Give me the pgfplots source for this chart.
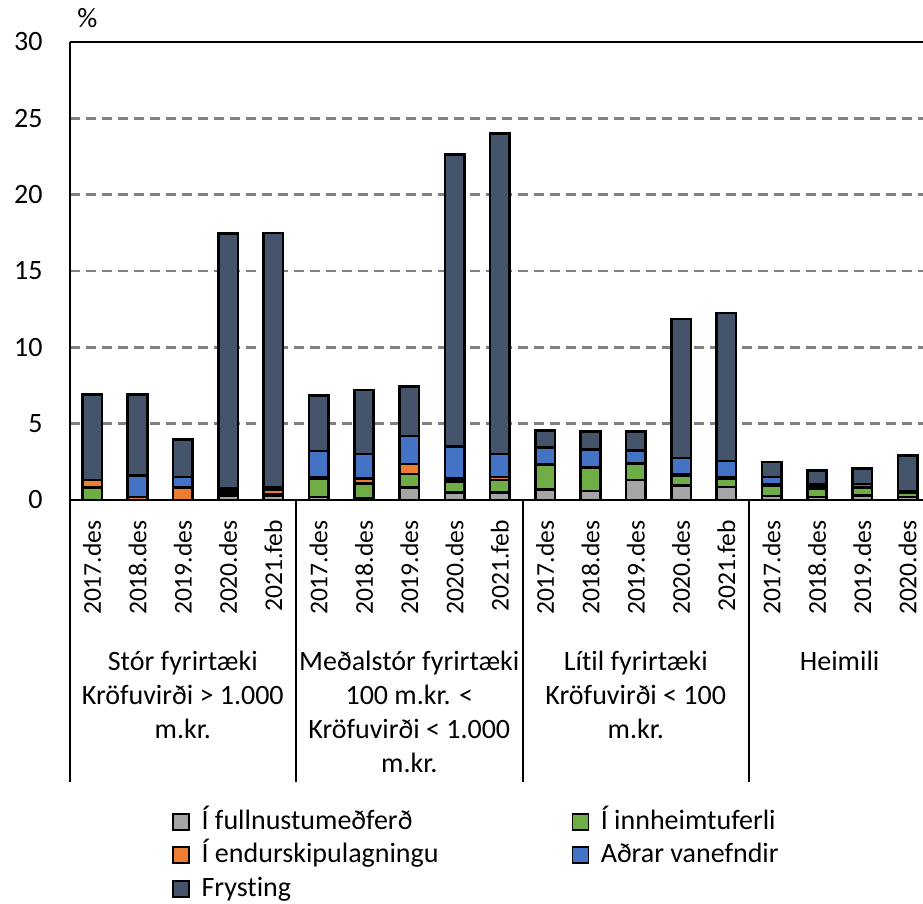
\documentclass[border=0pt]{standalone}
\usepackage{fontspec}
\setmainfont{Carlito}[Ligatures=NoCommon]
\usepackage{pgfplots}
\usepackage{pgfplotstable}
\pgfplotsset{compat=1.18}
\definecolor{cgray}{HTML}{A5A5A5}
\definecolor{cgreen}{HTML}{70AD47}
\definecolor{corange}{HTML}{ED7D31}
\definecolor{cblue}{HTML}{4472C4}
\definecolor{cdark}{HTML}{44546A}
\pgfplotstableread{
x gray green orange blue frys
0  0    0.8  0.5  0    5.6
1  0    0    0.2  1.4  5.3
2  0    0    0.8  0.7  2.45
3  0.3  0.05 0.2  0.2  16.7
4  0.3  0.1  0.3  0.1  16.7
5  0.2  1.2  0.1  1.7  3.65
6  0.1  1.0  0.3  1.6  4.2
7  0.8  0.9  0.65 1.85 3.25
8  0.5  0.7  0.2  2.1  19.15
9  0.5  0.8  0.2  1.5  21.0
10 0.7  1.6  0.05 1.1  1.1
11 0.6  1.5  0.05 1.15 1.2
12 1.3  1.05 0.05 0.85 1.25
13 0.95 0.65 0.1  1.05 9.1
14 0.85 0.55 0.1  1.05 9.7
15 0.25 0.7  0.05 0.5  1.0
16 0.2  0.55 0.05 0.2  0.95
17 0.3  0.5  0.05 0.2  1.0
18 0.2  0.25 0.1  0.05 2.3
}\datatab
\begin{document}
\begin{tikzpicture}
\begin{axis}[
  scale only axis, width=426.5pt, height=229pt,
  at={(0,0)}, anchor=south west,
  xmin=-0.49, xmax=18.34, ymin=0, ymax=30,
  ybar stacked, bar width=0.43,
  separate axis lines, axis x line*=box, axis y line*=left,
  axis line style={line width=1.1pt, black},
  ytick={0,5,...,30},
  xtick={0,...,18},
  xticklabels={2017.des,2018.des,2019.des,2020.des,2021.feb,2017.des,2018.des,2019.des,2020.des,2021.feb,2017.des,2018.des,2019.des,2020.des,2021.feb,2017.des,2018.des,2019.des,2020.des},
  major tick length=0pt,
  ymajorgrids, grid style={dash pattern=on 5pt off 3pt, line width=1.2pt, color=black!50},
  /pgf/number format/assume math mode=true,
  yticklabel style={font=\fontsize{14}{17}\selectfont, anchor=east, inner sep=0pt},
  yticklabel shift=13.5pt,
  xticklabel style={font=\fontsize{12.8}{15}\selectfont, rotate=90, anchor=east, inner sep=0pt},
  xticklabel shift=10pt,
  clip=false,
  legend columns=2,
  legend cell align=left,
  legend image code/.code={\draw[#1, draw=black, line width=0.9pt] (0pt,-4pt) rectangle (8pt,4pt); \path (11.5pt,0pt);},
  legend style={at={(0.1196,-0.6725)}, anchor=north west, draw=none, fill=none,
    font=\fontsize{14}{17}\selectfont, inner sep=0pt,
    nodes={inner ysep=0pt, inner xsep=2pt, text height=10.5pt, text depth=3pt},
    row sep=3.2pt,
    /tikz/every even column/.append style={column sep=64.5pt}},
]
\addplot[fill=cgray, draw=black, line width=1.3pt] table[x=x,y=gray]{\datatab};
\addlegendentry{Í fullnustumeðferð}
\addplot[fill=cgreen, draw=black, line width=1.3pt] table[x=x,y=green]{\datatab};
\addlegendentry{Í innheimtuferli}
\addplot[fill=corange, draw=black, line width=1.3pt] table[x=x,y=orange]{\datatab};
\addlegendentry{Í endurskipulagningu}
\addplot[fill=cblue, draw=black, line width=1.3pt] table[x=x,y=blue]{\datatab};
\addlegendentry{Aðrar vanefndir}
\addplot[fill=cdark, draw=black, line width=1.3pt] table[x=x,y=frys]{\datatab};
\addlegendentry{Frysting}
% separators
\draw[line width=1pt] (rel axis cs:0,0) -- ++(0pt,-141pt);
\draw[line width=1pt] (axis cs:4.5,0) -- ++(0pt,-141pt);
\draw[line width=1pt] (axis cs:9.5,0) -- ++(0pt,-141pt);
\draw[line width=1pt] (axis cs:14.5,0) -- ++(0pt,-141pt);
% group labels
\tikzset{grp/.style={anchor=north, align=center, inner sep=0pt, font=\fontsize{14}{17}\selectfont}}
\node[grp] at ([yshift=-75.5pt]axis cs:2,0) {Stór fyrirtæki\\Kröfuvirði > 1.000\\m.kr.};
\node[grp] at ([yshift=-75.5pt]axis cs:7,0) {Meðalstór fyrirtæki\\100 m.kr. <\\Kröfuvirði < 1.000\\m.kr.};
\node[grp] at ([yshift=-75.5pt]axis cs:12,0) {Lítil fyrirtæki\\Kröfuvirði < 100\\m.kr.};
\node[grp] at ([yshift=-75.5pt]axis cs:16.5,0) {Heimili};
\node[anchor=base west, inner sep=0pt, font=\fontsize{14}{17}\selectfont] at ([xshift=3.5pt, yshift=7.5pt]rel axis cs:0,1) {\%};
\end{axis}
\pgfresetboundingbox
\useasboundingbox (-35pt,-202pt) rectangle (426.5pt,250pt);
\end{tikzpicture}
\end{document}
